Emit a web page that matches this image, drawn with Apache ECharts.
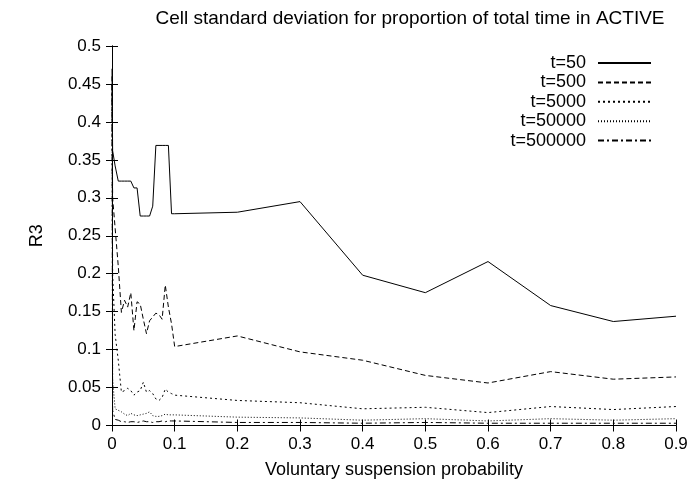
<!DOCTYPE html>
<html>
<head>
<meta charset="utf-8">
<script src="https://cdn.jsdelivr.net/npm/echarts@6/dist/echarts.min.js"></script>
<style>html,body{margin:0;padding:0;background:#fff}#c{width:693px;height:487px}</style>
</head>
<body>
<div id="c"></div>
<script>
const titleText = 'Cell standard deviation for proportion of total time in ACTIVE';
const xName = 'Voluntary suspension probability';
const yName = 'R3';
const seriesNames = ['t=50', 't=500', 't=5000', 't=50000', 't=500000'];
const xValues = [0,0.001,0.005,0.01,0.015,0.02,0.025,0.03,0.035,0.04,0.045,0.05,0.055,0.06,0.065,0.07,0.075,0.08,0.085,0.09,0.095,0.1,0.2,0.3,0.4,0.5,0.6,0.7,0.8,0.9];
const t50 = [0.47,0.362,0.342,0.322,0.322,0.322,0.322,0.322,0.313,0.313,0.276,0.276,0.276,0.276,0.289,0.369,0.369,0.369,0.369,0.369,0.279,0.279,0.281,0.295,0.198,0.175,0.216,0.158,0.137,0.144];
const t500 = [0.46,0.30,0.26,0.21,0.149,0.165,0.156,0.175,0.125,0.163,0.160,0.14,0.121,0.138,0.143,0.148,0.146,0.14,0.185,0.156,0.134,0.104,0.118,0.097,0.086,0.066,0.056,0.071,0.061,0.064];
const t5000 = [0.45,0.2,0.12,0.086,0.044,0.046,0.049,0.046,0.040,0.044,0.046,0.057,0.044,0.046,0.042,0.035,0.033,0.037,0.048,0.044,0.042,0.040,0.033,0.030,0.022,0.024,0.017,0.025,0.021,0.025];
const t50000 = [0.44,0.06,0.022,0.02,0.018,0.015,0.013,0.016,0.014,0.013,0.014,0.015,0.016,0.018,0.013,0.012,0.012,0.013,0.015,0.014,0.014,0.014,0.011,0.010,0.007,0.009,0.006,0.009,0.007,0.009];
const t500000 = [0.45,0.02,0.008,0.007,0.005,0.005,0.004,0.005,0.005,0.004,0.005,0.006,0.005,0.005,0.004,0.005,0.005,0.006,0.005,0.006,0.006,0.006,0.004,0.004,0.003,0.004,0.003,0.003,0.003,0.003];
const allValues = [t50, t500, t5000, t50000, t500000];
const dashes = ['solid', [5,3], [2,3], [1,2], [6,3,2,3]];

const FONT = 'Liberation Sans';
const FS = 18;
const chart = echarts.init(document.getElementById('c'), null, {renderer: 'canvas'});
const axisCommon = {
  type: 'value',
  axisLine: {show: true, lineStyle: {color: '#000', width: 1}},
  axisTick: {show: true, inside: true, length: 6, lineStyle: {color: '#000'}},
  splitLine: {show: false}
};
const option = {
  animation: false,
  backgroundColor: '#fff',
  title: {
    text: titleText, left: 405, top: 4, textAlign: 'center',
    textStyle: {fontFamily: FONT, fontSize: 19, fontWeight: 'normal', color: '#000'}
  },
  legend: {
    orient: 'vertical', right: 36, top: 49, align: 'right',
    itemWidth: 53, itemHeight: 14, itemGap: 1.4,
    itemStyle: {opacity: 0},
    textStyle: {fontFamily: FONT, fontSize: FS, color: '#000', padding: [0, 7, 0, 0]},
    data: seriesNames
  },
  grid: {left: 112, right: 17, top: 46, bottom: 61.5, containLabel: false},
  xAxis: [
    Object.assign({}, axisCommon, {
      position: 'bottom', min: 0, max: 0.9, interval: 0.1,
      name: xName, nameLocation: 'middle', nameGap: 36,
      nameTextStyle: {fontFamily: FONT, fontSize: FS, color: '#000'},
      axisLabel: {fontFamily: FONT, fontSize: 17, color: '#000', margin: 10}
    }),
    Object.assign({}, axisCommon, {
      position: 'top', min: 0, max: 0.9, interval: 0.1, axisLabel: {show: false}
    })
  ],
  yAxis: [
    Object.assign({}, axisCommon, {
      position: 'left', min: 0, max: 0.5, interval: 0.05,
      name: yName, nameLocation: 'middle', nameGap: 66,
      nameTextStyle: {fontFamily: FONT, fontSize: FS, color: '#000'},
      axisLabel: {fontFamily: FONT, fontSize: 17, color: '#000', margin: 11}
    }),
    Object.assign({}, axisCommon, {
      position: 'right', min: 0, max: 0.5, interval: 0.05, axisLabel: {show: false}
    })
  ],
  series: seriesNames.map((n, i) => ({
    name: n, type: 'line', symbol: 'none', xAxisIndex: 0, yAxisIndex: 0,
    data: xValues.map((x, j) => [x, allValues[i][j]]),
    lineStyle: {color: '#000', width: 1, type: dashes[i]},
    itemStyle: {color: '#000'}
  }))
};
chart.setOption(option);
</script>
</body>
</html>
